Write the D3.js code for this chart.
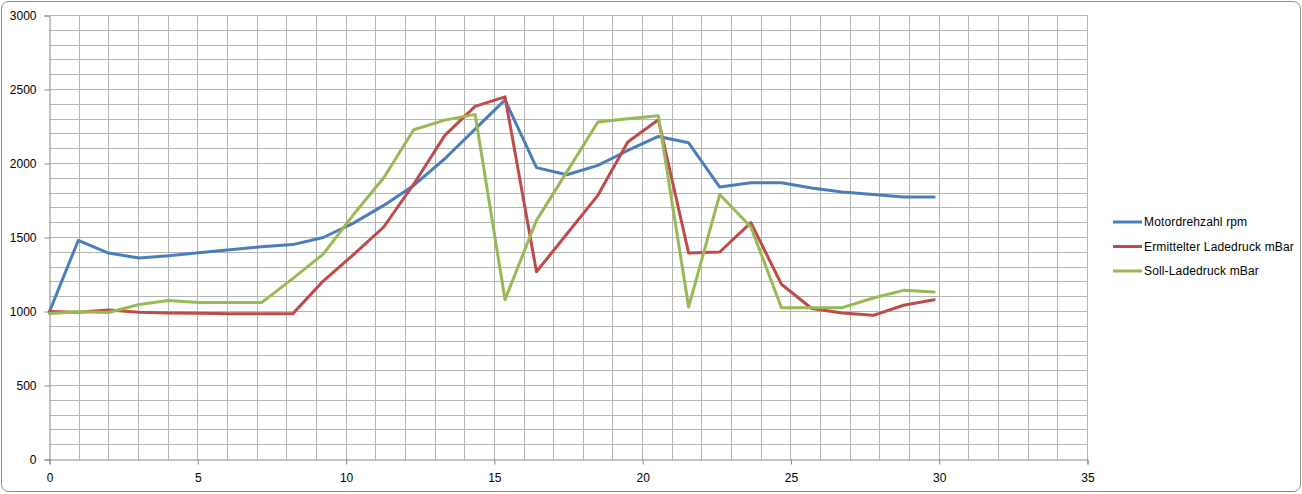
<!DOCTYPE html>
<html>
<head>
<meta charset="utf-8">
<script src="https://cdn.jsdelivr.net/npm/d3@7"></script>
<style>
  html, body { margin: 0; padding: 0; background: #fff; }
  svg { display: block; font-family: "Liberation Sans", Arial, sans-serif; }
</style>
</head>
<body>
<div id="chart"></div>
<script>
// Zeit (x) der Messpunkte
const zeit = [0, 0.97, 1.99, 3.02, 4.02, 5.03, 6.08, 7.15, 8.2, 9.23,
  10.25, 11.27, 12.28, 13.33, 14.35, 15.36, 16.42, 17.45, 18.49, 19.5,
  20.53, 21.55, 22.6, 23.65, 24.68, 25.7, 26.73, 27.78, 28.8, 29.83];

const motordrehzahl = [1000, 1480, 1395, 1362, 1377, 1397, 1418, 1437, 1452, 1500,
  1597, 1717, 1852, 2032, 2232, 2430, 1972, 1924, 1987, 2088,
  2183, 2140, 1841, 1870, 1870, 1834, 1807, 1791, 1773, 1773];

const ermittelterLadedruck = [1000, 995, 1010, 995, 990, 988, 985, 984, 984, 1206,
  1385, 1571, 1860, 2190, 2386, 2450, 1269, 1525, 1785, 2145,
  2296, 1395, 1402, 1600, 1184, 1020, 990, 974, 1042, 1080];

const sollLadedruck = [986, 998, 993, 1047, 1074, 1060, 1060, 1060, 1222, 1388,
  1655, 1904, 2228, 2293, 2332, 1080, 1616, 1945, 2280, 2303,
  2322, 1030, 1791, 1571, 1026, 1026, 1026, 1091, 1143, 1132];

const seriesNames = ["Motordrehzahl rpm", "Ermittelter Ladedruck mBar", "Soll-Ladedruck mBar"];
const seriesColors = ["#4A7EBB", "#BE4B48", "#98B954"];
const seriesValues = [motordrehzahl, ermittelterLadedruck, sollLadedruck];

const xTicks = [0, 5, 10, 15, 20, 25, 30, 35];
const yTicks = [0, 500, 1000, 1500, 2000, 2500, 3000];

const width = 1302, height = 494;

const svg = d3.select('#chart').append('svg')
    .attr('width', width)
    .attr('height', height);

// chart frame
svg.append('rect')
    .attr('x', 1.5).attr('y', 1.5)
    .attr('width', width - 3).attr('height', height - 4)
    .attr('rx', 7)
    .attr('fill', '#fff')
    .attr('stroke', '#8C8C8C')
    .attr('stroke-width', 1);

const x = d3.scaleLinear().domain([0, 35]).range([49.5, 1087.5]);
const y = d3.scaleLinear().domain([0, 3000]).range([459.5, 15.5]);
const px = v => Math.round(x(v) - 0.5) + 0.5;
const py = v => Math.round(y(v) - 0.5) + 0.5;

// gridlines (every 1 on x, every 100 on y)
const grid = svg.append('g').attr('stroke', '#B3B3B3').attr('stroke-width', 1);
grid.selectAll('line.v')
    .data(d3.range(1, 36))
    .join('line')
    .attr('x1', d => px(d)).attr('x2', d => px(d))
    .attr('y1', y(3000)).attr('y2', y(0));
grid.selectAll('line.h')
    .data(d3.range(100, 3001, 100))
    .join('line')
    .attr('x1', x(0)).attr('x2', x(35))
    .attr('y1', d => py(d)).attr('y2', d => py(d));

// axes
const xAxis = svg.append('g')
    .attr('transform', `translate(0,${y(0)})`)
    .call(d3.axisBottom(x).tickValues(xTicks).tickSize(5).tickPadding(9).tickFormat(d3.format('d')));
const yAxis = svg.append('g')
    .attr('transform', `translate(${x(0)},0)`)
    .call(d3.axisLeft(y).tickValues(yTicks).tickSize(5).tickPadding(8).tickFormat(d3.format('d')));

[xAxis, yAxis].forEach(a => {
  a.select('.domain').attr('stroke', '#868686');
  a.selectAll('.tick line').attr('stroke', '#868686');
  a.selectAll('.tick text')
      .attr('fill', '#000')
      .attr('font-size', 12)
      .attr('font-family', '"Liberation Sans", Arial, sans-serif');
});

// series lines
const line = d3.line()
    .x((d, i) => x(zeit[i]))
    .y(d => y(d));

svg.append('g')
    .selectAll('path')
    .data(seriesValues)
    .join('path')
    .attr('d', d => line(d))
    .attr('fill', 'none')
    .attr('stroke', (d, i) => seriesColors[i])
    .attr('stroke-width', 3)
    .attr('stroke-linejoin', 'round')
    .attr('stroke-linecap', 'round');

// legend
const legend = svg.append('g')
    .selectAll('g')
    .data(seriesNames)
    .join('g')
    .attr('transform', (d, i) => `translate(1113,${222 + i * 24.5})`);

legend.append('line')
    .attr('x1', 0).attr('x2', 29)
    .attr('stroke', (d, i) => seriesColors[i])
    .attr('stroke-width', 3);

legend.append('text')
    .attr('x', 31)
    .attr('dy', '0.35em')
    .attr('font-size', 12)
    .attr('fill', '#000')
    .style('letter-spacing', '0.15px')
    .text(d => d);
</script>
</body>
</html>
